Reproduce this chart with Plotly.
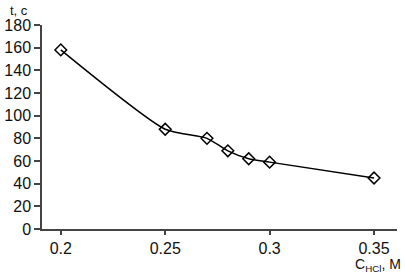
import plotly.graph_objects as go

conc = [0.20, 0.25, 0.27, 0.28, 0.29, 0.30, 0.35]
time_s = [158, 88, 80, 69, 62, 59, 45]
x_ticks = [0.2, 0.25, 0.3, 0.35]
x_tick_labels = ["0.2", "0.25", "0.3", "0.35"]
y_ticks = [0, 20, 40, 60, 80, 100, 120, 140, 160, 180]

fig = go.Figure()
fig.add_trace(go.Scatter(
    x=conc, y=time_s, mode="lines+markers",
    line=dict(color="black", width=1.5, shape="spline", smoothing=0.6),
    marker=dict(symbol="diamond-open", size=9, color="black", line=dict(width=1.5, color="black")),
    showlegend=False,
))

fam = "Liberation Sans, Arial, sans-serif"
font = dict(family=fam, size=16, color="#111")
fig.update_layout(
    width=405, height=277,
    margin=dict(l=42, r=8, t=25, b=48, autoexpand=False),
    paper_bgcolor="white", plot_bgcolor="white",
    font=font,
    xaxis=dict(range=[0.191, 0.361], tickvals=x_ticks, ticktext=x_tick_labels, automargin=False,
               showgrid=False, zeroline=False, showline=True, linecolor="#444", linewidth=1.5,
               ticks="outside", ticklen=4, tickcolor="#444", tickwidth=1.5, tickfont=font),
    yaxis=dict(range=[0, 180], tickvals=y_ticks, showgrid=False, zeroline=False, automargin=False,
               showline=True, linecolor="#444", linewidth=1.5,
               ticks="outside", ticklen=6, tickcolor="#444", tickwidth=1.5, tickfont=font),
    annotations=[
        dict(text="t, c", xref="paper", yref="paper", x=-0.096, y=1.0, yshift=5,
             xanchor="left", yanchor="bottom", showarrow=False,
             font=dict(family=fam, size=13, color="#111")),
        dict(text="C<sub>HCl</sub>, M", xref="paper", yref="paper", x=1.017, y=0, yshift=-25,
             xanchor="right", yanchor="top", showarrow=False,
             font=dict(family=fam, size=14, color="#111")),
    ],
)
fig.write_html("out.html", config={"displayModeBar": False},
               post_script="document.body.style.margin='0';")
